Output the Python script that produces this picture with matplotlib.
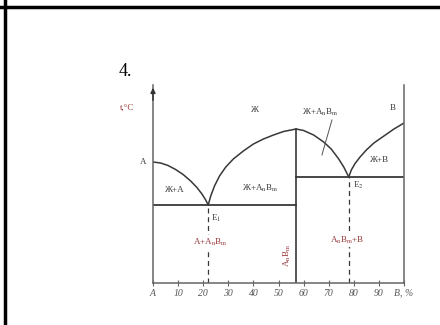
import matplotlib
matplotlib.use("Agg")
import matplotlib.pyplot as plt
from matplotlib.lines import Line2D

# phase diagram A - B with congruent compound AnBm (values in %B / arbitrary t units)
x_E1, t_E1 = 22, 78
x_E2, t_E2 = 78, 106
x_C, t_C = 57, 154
t_A, t_B = 121, 160

# liquidus branches
liq1_x = [0, 3, 6, 9, 12, 15, 17.5, 19.5, 21, 22]
liq1_t = [121, 120, 117.5, 113.5, 108.5, 102, 95.5, 89, 83, 78]
liq2_x = [22, 23, 24.5, 26.5, 29, 32, 36, 40, 44, 48, 52, 57]
liq2_t = [78, 87, 97, 107, 116, 124, 132, 139, 144, 148, 151.5, 154]
liq3_x = [57, 60, 64, 68, 71, 74, 76, 78]
liq3_t = [154, 152.5, 148, 141, 134, 124, 116, 106]
liq4_x = [78, 79, 80.5, 82.5, 85, 88, 92, 96, 100]
liq4_t = [106, 113, 119.5, 126, 133, 140, 147, 154, 160]

tick_pos = [0, 10, 20, 30, 40, 50, 60, 70, 80, 90, 100]
tick_lab = ['A', '10', '20', '30', '40', '50', '60', '70', '80', '90', 'B, %']

SERIF = ['Liberation Serif', 'DejaVu Serif']
plt.rcParams['font.family'] = SERIF
plt.rcParams['mathtext.fontset'] = 'stix'
ink = '#3a3a3a'
red = '#9a3838'

fig = plt.figure(figsize=(4.4, 3.25), dpi=100)

# table cell borders
fig.add_artist(Line2D([0, 1], [1 - 6.5/325, 1 - 6.5/325], color='black', lw=2.5))
fig.add_artist(Line2D([4.8/440, 4.8/440], [0, 1], color='black', lw=2.5))
fig.text(125/440, 1 - 72/325, '4.', fontsize=13, ha='center', va='center', color='black')

ax = fig.add_axes([153/440, (325 - 283)/325, (404 - 153)/440, (283 - 85)/325])
ax.set_xlim(0, 100)
ax.set_ylim(0, 198)
ax.set_facecolor('none')
ax.spines['top'].set_visible(False)
for s in ['left', 'bottom', 'right']:
    ax.spines[s].set_color('#666666')
    ax.spines[s].set_linewidth(1.1)
ax.annotate('', xy=(0, 198), xytext=(0, 180), annotation_clip=False,
            arrowprops=dict(arrowstyle='-|>', color='#333333', lw=1.1, mutation_scale=7))

ax.set_xticks(tick_pos)
ax.set_xticklabels(tick_lab, fontstyle='italic', fontsize=7, color='#555555')
ax.tick_params(axis='x', direction='inout', length=4, width=0.8, color='#666666', pad=2)
ax.set_yticks([])

lc = '#383838'
for xs, ts in [(liq1_x, liq1_t), (liq2_x, liq2_t), (liq3_x, liq3_t), (liq4_x, liq4_t)]:
    ax.plot(xs, ts, color=lc, lw=1.1, solid_capstyle='round', solid_joinstyle='round')

# compound line and eutectic horizontals
ax.plot([x_C, x_C], [0, t_C], color=lc, lw=1.2)
ax.plot([0, x_C], [t_E1, t_E1], color=lc, lw=1.3)
ax.plot([x_C, 100], [t_E2, t_E2], color=lc, lw=1.3)
ax.plot([x_E1, x_E1], [0, t_E1], color=lc, lw=0.9, ls=(0, (4, 3)))
ax.plot([x_E2, x_E2], [0, t_E2], color=lc, lw=0.9, ls=(0, (4, 3)))

AB = r'A$_\mathrm{n}$B$_\mathrm{m}$'
fs = 6.5
ax.text(-10.4, 175, 't,°C', fontsize=fs, color=red, ha='center', va='center')
ax.text(-2.5, t_A, 'A', fontsize=fs, color=ink, ha='right', va='center')
ax.text(95.6, 175, 'B', fontsize=fs, color=ink, ha='center', va='center')
ax.text(40.6, 173, 'Ж', fontsize=fs, color=ink, ha='center', va='center')
ax.text(8.8, 93, 'Ж+A', fontsize=fs, color=ink, ha='center', va='center')
ax.text(42.6, 95, 'Ж+' + AB, fontsize=fs, color=ink, ha='center', va='center')
ax.text(66.5, 171, 'Ж+' + AB, fontsize=fs, color=ink, ha='center', va='center')
ax.plot([71.3, 67.3], [163, 128], color='#555555', lw=0.7)
ax.text(90.4, 123, 'Ж+B', fontsize=fs, color=ink, ha='center', va='center')
ax.text(x_E1 + 1, t_E1 - 13, 'E$_1$', fontsize=fs, color=ink, ha='left', va='center')
ax.text(x_E2 + 1.5, t_E2 - 8, 'E$_2$', fontsize=fs, color=ink, ha='left', va='center')
ax.text(x_E1 + 0.7, 41, 'A+' + AB, fontsize=fs, color=red, ha='center', va='center',
        bbox=dict(boxstyle='square,pad=0.1', fc='white', ec='none'))
ax.text(77.3, 43, AB + '+B', fontsize=fs, color=red, ha='center', va='center',
        bbox=dict(boxstyle='square,pad=0.1', fc='white', ec='none'))
ax.text(53.4, 28, AB, fontsize=fs, color=red, ha='center', va='center', rotation=90)

fig.savefig('out.png', dpi=100)
